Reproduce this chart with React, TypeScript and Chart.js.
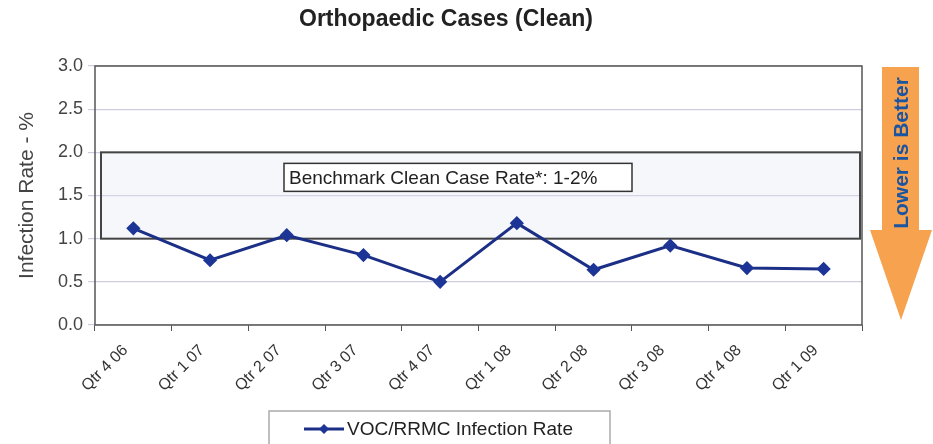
import React, { useEffect, useRef } from "react";
import { Chart, registerables } from "chart.js";

Chart.register(...registerables);

const categories = ["Qtr 4 06", "Qtr 1 07", "Qtr 2 07", "Qtr 3 07", "Qtr 4 07", "Qtr 1 08", "Qtr 2 08", "Qtr 3 08", "Qtr 4 08", "Qtr 1 09"];
const infectionRate = [1.12, 0.75, 1.04, 0.81, 0.5, 1.18, 0.64, 0.92, 0.66, 0.65];
const benchmarkLow = 1;
const benchmarkHigh = 2;
const chartTitle = "Orthopaedic Cases (Clean)";
const yTitle = "Infection Rate - %";
const seriesName = "VOC/RRMC Infection Rate";
const benchmarkLabel = "Benchmark Clean Case Rate*: 1-2%";
const arrowLabel = "Lower is Better";

const FONT = "'Liberation Sans', Arial, sans-serif";

const decorPlugin = {
  id: "decor",
  beforeDatasetsDraw(chart: any) {
    const { ctx, chartArea } = chart;
    const y = chart.scales.y;
    ctx.save();
    const top = y.getPixelForValue(benchmarkHigh);
    const bot = y.getPixelForValue(benchmarkLow);
    const bx = chartArea.left + 6;
    const bw = chartArea.right - 2 - bx;
    ctx.fillStyle = "rgba(222,230,240,0.3)";
    ctx.fillRect(bx, top, bw, bot - top);
    ctx.strokeStyle = "#444";
    ctx.lineWidth = 2;
    ctx.strokeRect(bx, top, bw, bot - top);
    const ly = y.getPixelForValue(1.71);
    const lx = chartArea.left + 189;
    ctx.fillStyle = "#fff";
    ctx.fillRect(lx, ly - 14, 348, 28);
    ctx.strokeStyle = "#333";
    ctx.lineWidth = 1.5;
    ctx.strokeRect(lx, ly - 14, 348, 28);
    ctx.fillStyle = "#222";
    ctx.font = `19px ${FONT}`;
    ctx.textBaseline = "middle";
    ctx.textAlign = "left";
    ctx.fillText(benchmarkLabel, lx + 5, ly + 1);
    ctx.strokeStyle = "#555";
    ctx.lineWidth = 1.5;
    ctx.strokeRect(chartArea.left, chartArea.top, chartArea.right - chartArea.left, chartArea.bottom - chartArea.top);
    ctx.restore();
  },
  afterDraw(chart: any) {
    const { ctx } = chart;
    ctx.save();
    ctx.fillStyle = "#222";
    ctx.font = `bold 23px ${FONT}`;
    ctx.textAlign = "center";
    ctx.textBaseline = "middle";
    ctx.fillText(chartTitle, 446, 20);
    ctx.fillStyle = "#F6A24E";
    ctx.beginPath();
    ctx.moveTo(882, 67);
    ctx.lineTo(919, 67);
    ctx.lineTo(919, 230);
    ctx.lineTo(932, 230);
    ctx.lineTo(901, 320);
    ctx.lineTo(870, 230);
    ctx.lineTo(882, 230);
    ctx.closePath();
    ctx.fill();
    ctx.translate(901, 153);
    ctx.rotate(-Math.PI / 2);
    ctx.fillStyle = "#1b54a0";
    ctx.font = `bold 21px ${FONT}`;
    ctx.fillText(arrowLabel, 0, 1);
    ctx.restore();
    ctx.save();
    ctx.fillStyle = "#fff";
    ctx.fillRect(269, 411, 341, 40);
    ctx.strokeStyle = "#aaa";
    ctx.lineWidth = 1.5;
    ctx.beginPath();
    ctx.moveTo(269, 460);
    ctx.lineTo(269, 411);
    ctx.lineTo(610, 411);
    ctx.lineTo(610, 460);
    ctx.stroke();
    ctx.strokeStyle = "#1c2f86";
    ctx.lineWidth = 3;
    ctx.beginPath();
    ctx.moveTo(304, 429);
    ctx.lineTo(344, 429);
    ctx.stroke();
    ctx.fillStyle = "#1c3596";
    ctx.beginPath();
    ctx.moveTo(324, 424);
    ctx.lineTo(329, 429);
    ctx.lineTo(324, 434);
    ctx.lineTo(319, 429);
    ctx.closePath();
    ctx.fill();
    ctx.fillStyle = "#222";
    ctx.font = `19px ${FONT}`;
    ctx.textAlign = "left";
    ctx.textBaseline = "middle";
    ctx.fillText(seriesName, 347, 430);
    ctx.restore();
  },
};

export default function App() {
  const ref = useRef<HTMLCanvasElement>(null);
  useEffect(() => {
    if (!ref.current) return;
    const chart = new Chart(ref.current, {
      type: "line",
      data: {
        labels: categories,
        datasets: [
          {
            label: seriesName,
            data: infectionRate,
            borderColor: "#1c2f86",
            borderWidth: 3,
            pointStyle: "rectRot",
            pointRadius: 5,
            pointBackgroundColor: "#1c3596",
            pointBorderColor: "#1c3596",
            tension: 0,
          },
        ],
      },
      options: {
        animation: false,
        responsive: true,
        maintainAspectRatio: false,
        layout: { padding: { top: 66, right: 71, bottom: 0, left: 0 } },
        plugins: {
          legend: { display: false },
          title: { display: false },
          tooltip: { enabled: false },
        },
        scales: {
          x: {
            offset: true,
            afterFit(scale: any) {
              scale.height = 119;
            },
            grid: { offset: true, drawOnChartArea: false, tickLength: 6, color: "#555" },
            border: { display: false },
            ticks: {
              minRotation: 45,
              maxRotation: 45,
              font: { family: FONT, size: 16 },
              color: "#333",
              padding: 10,
              labelOffset: -8,
            },
          },
          y: {
            min: 0,
            max: 3,
            afterFit(scale: any) {
              scale.width = 95;
            },
            ticks: {
              stepSize: 0.5,
              callback: (v: any) => Number(v).toFixed(1),
              font: { family: FONT, size: 18 },
              color: "#444",
              padding: 5,
            },
            grid: { color: "#cdcde2", tickLength: 7, lineWidth: 1.2 },
            border: { display: false },
            title: {
              display: true,
              text: yTitle,
              font: { family: FONT, size: 21 },
              color: "#444",
              padding: { top: 15, bottom: 0 },
            },
          },
        },
      },
      plugins: [decorPlugin],
    });
    return () => chart.destroy();
  }, []);
  return (
    <div style={{ position: "absolute", left: 0, top: 0, width: 933, height: 444, background: "#fff", overflow: "hidden" }}>
      <canvas ref={ref} />
    </div>
  );
}
